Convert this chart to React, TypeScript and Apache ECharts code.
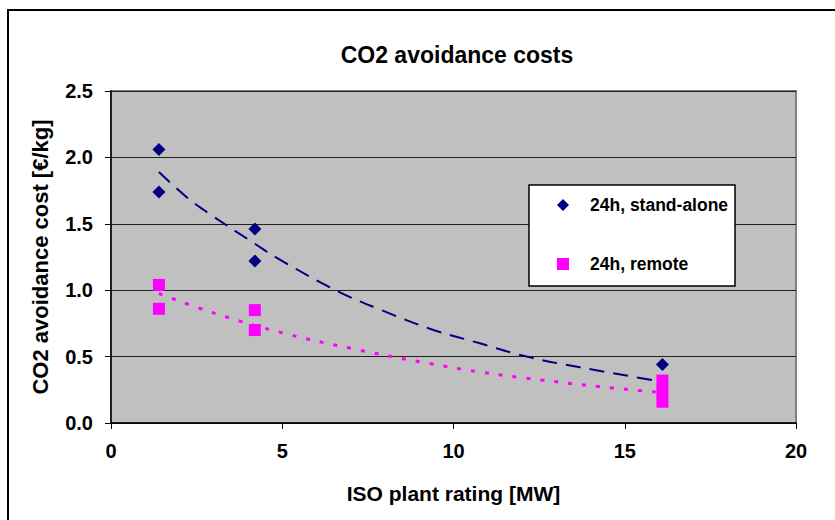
import React, { useEffect, useRef } from "react";
import * as echarts from "echarts";

const FONT = "'Liberation Sans', Arial, sans-serif";

const titleText = "CO2 avoidance costs";
const xAxisName = "ISO plant rating [MW]";
const yAxisName = "CO2 avoidance cost [€/kg]";
const seriesNames = ["24h, stand-alone", "24h, remote"];

// Measured points
const standAloneX = [1.4, 1.4, 4.2, 4.2, 16.1];
const standAloneY = [2.06, 1.74, 1.46, 1.22, 0.44];
const remoteX = [1.4, 1.4, 4.2, 4.2, 16.1, 16.1, 16.1];
const remoteY = [1.04, 0.86, 0.85, 0.7, 0.32, 0.24, 0.16];

// Trend lines
const standAloneTrendX = [1.4, 2.21, 2.79, 4.2, 4.93, 6.64, 7.85, 9.31, 10.77, 12.23, 13.69, 16.1];
const standAloneTrendY = [1.89, 1.7, 1.59, 1.35, 1.23, 0.99, 0.855, 0.71, 0.6, 0.494, 0.42, 0.31];
const remoteTrendX = [1.4, 3.04, 5.08, 7.12, 9.12, 10.72, 11.94, 13.94, 16.1];
const remoteTrendY = [0.975, 0.825, 0.674, 0.556, 0.456, 0.386, 0.343, 0.283, 0.228];

const zip = (xs: number[], ys: number[]) => xs.map((x, i) => [x, ys[i]]);

export default function App() {
  const ref = useRef<HTMLDivElement>(null);
  useEffect(() => {
    if (!ref.current) return;
    const chart = echarts.init(ref.current, null, { renderer: "svg" });
    const navy = "#000080";
    const magenta = "#FF00FF";
    chart.setOption({
      animation: false,
      backgroundColor: "#ffffff",
      textStyle: { fontFamily: FONT },
      title: {
        text: titleText,
        left: 452,
        top: 38,
        textAlign: "center",
        textStyle: { fontFamily: FONT, fontWeight: "bold", fontSize: 23, color: "#000" },
      },
      grid: {
        left: 111,
        right: 39,
        top: 91,
        bottom: 97,
        show: true,
        backgroundColor: "#C0C0C0",
        borderColor: "#808080",
        borderWidth: 2,
      },
      xAxis: {
        type: "value",
        min: 0,
        max: 20,
        interval: 5,
        name: xAxisName,
        nameLocation: "middle",
        nameGap: 60,
        nameTextStyle: { fontFamily: FONT, fontWeight: "bold", fontSize: 21, color: "#000" },
        axisLine: { show: true, onZero: false, lineStyle: { color: "#000", width: 1.5 } },
        axisTick: { show: true, length: 6, lineStyle: { color: "#000" } },
        axisLabel: { margin: 18, fontFamily: FONT, fontWeight: "bold", fontSize: 20, color: "#000" },
        splitLine: { show: false },
      },
      yAxis: {
        type: "value",
        min: 0,
        max: 2.5,
        interval: 0.5,
        name: yAxisName,
        nameLocation: "middle",
        nameGap: 60,
        nameTextStyle: { fontFamily: FONT, fontWeight: "bold", fontSize: 22, color: "#000" },
        axisLine: { show: true, onZero: false, lineStyle: { color: "#000", width: 1.5 } },
        axisTick: { show: true, length: 6, lineStyle: { color: "#000" } },
        axisLabel: {
          margin: 18,
          fontFamily: FONT,
          fontWeight: "bold",
          fontSize: 20,
          color: "#000",
          formatter: (v: number) => v.toFixed(1),
        },
        splitLine: { show: true, lineStyle: { color: "#202020", width: 1 } },
      },
      legend: {
        data: [
          { name: seriesNames[0], icon: "diamond" },
          { name: seriesNames[1], icon: "rect" },
        ],
        orient: "vertical",
        left: 552,
        top: 190,
        itemWidth: 12,
        itemHeight: 12,
        itemGap: 39,
        z: 10,
        textStyle: {
          fontFamily: FONT,
          fontWeight: "bold",
          fontSize: 17.5,
          color: "#000",
          lineHeight: 20,
          padding: [0, 0, 0, 16],
        },
      },
      graphic: [
        {
          type: "rect",
          z: 9,
          shape: { x: 529, y: 185, width: 206, height: 101 },
          style: { fill: "#ffffff", stroke: "#000", lineWidth: 1.5 },
        },
        {
          type: "rect",
          z: 0,
          silent: true,
          shape: { x: 8, y: 10, width: 900, height: 600 },
          style: { fill: "none", stroke: "#000", lineWidth: 2 },
        },
      ],
      series: [
        {
          name: "trend stand-alone",
          type: "line",
          data: zip(standAloneTrendX, standAloneTrendY),
          smooth: 0.4,
          showSymbol: false,
          symbol: "none",
          z: 2,
          lineStyle: { color: navy, width: 2, type: [15, 9] },
        },
        {
          name: "trend remote",
          type: "line",
          data: zip(remoteTrendX, remoteTrendY),
          smooth: 0.4,
          showSymbol: false,
          symbol: "none",
          z: 2,
          lineStyle: { color: magenta, width: 3, type: [4, 10] },
        },
        {
          name: seriesNames[0],
          type: "scatter",
          data: zip(standAloneX, standAloneY),
          symbol: "diamond",
          symbolSize: 13,
          z: 3,
          itemStyle: { color: navy, opacity: 1 },
        },
        {
          name: seriesNames[1],
          type: "scatter",
          data: zip(remoteX, remoteY),
          symbol: "rect",
          symbolSize: 12,
          z: 3,
          itemStyle: { color: magenta, opacity: 1 },
        },
      ],
    });
    return () => chart.dispose();
  }, []);
  return (
    <div
      ref={ref}
      style={{ position: "absolute", left: 0, top: 0, width: 835, height: 520, background: "#fff" }}
    />
  );
}
